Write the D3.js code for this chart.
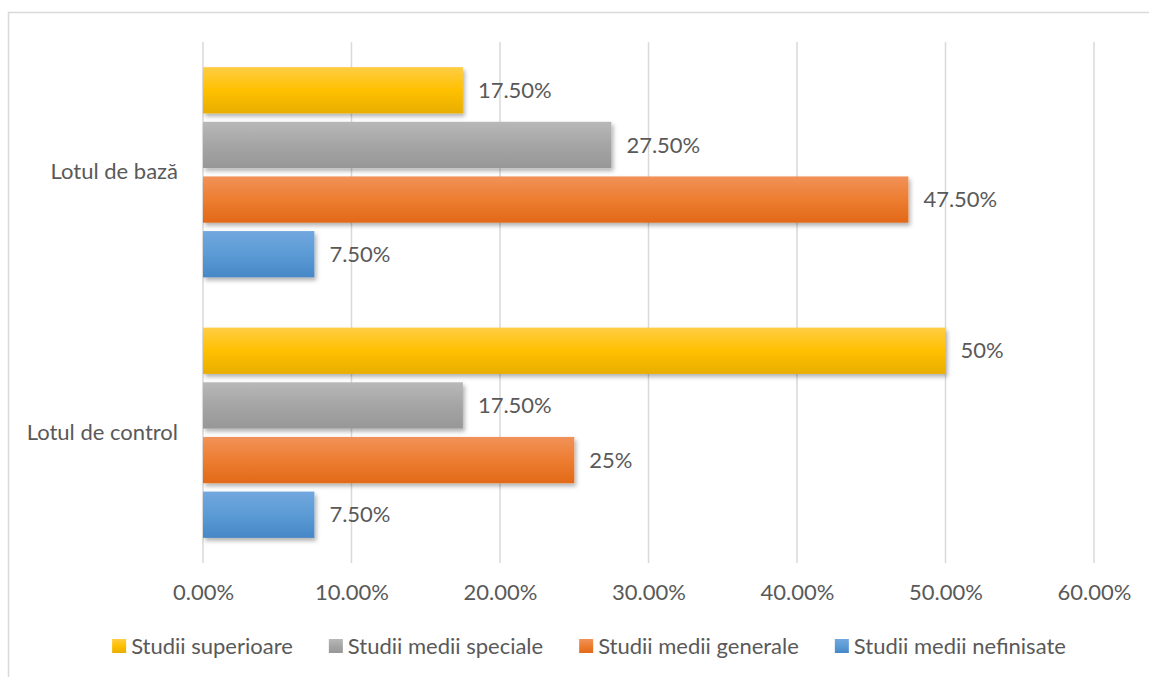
<!DOCTYPE html>
<html>
<head>
<meta charset="utf-8">
<script src="https://cdn.jsdelivr.net/npm/d3@7"></script>
<style>
  html, body { margin: 0; padding: 0; background: #fff; }
  svg { display: block; }
  text { font-family: Lato, "Open Sans", sans-serif; fill: #595959; }
</style>
</head>
<body>
<svg id="chart" width="1149" height="677"></svg>
<script>
// Groups (top to bottom) and education levels
const categories = ["Lotul de bază", "Lotul de control"];
const seriesNames = ["Studii superioare", "Studii medii speciale", "Studii medii generale", "Studii medii nefinisate"];
const superioare = [17.5, 50];
const mediiSpeciale = [27.5, 17.5];
const mediiGenerale = [47.5, 25];
const mediiNefinisate = [7.5, 7.5];
const valueLabels = [
  ["17.50%", "50%"],
  ["27.50%", "17.50%"],
  ["47.50%", "25%"],
  ["7.50%", "7.50%"]
];
const tickValues = [0, 10, 20, 30, 40, 50, 60];
const tickLabels = ["0.00%", "10.00%", "20.00%", "30.00%", "40.00%", "50.00%", "60.00%"];

const seriesValues = [superioare, mediiSpeciale, mediiGenerale, mediiNefinisate];
const palette = [
  { top: "#ffcd45", mid: "#ffc000", bot: "#e8ae00" },
  { top: "#b8b8b8", mid: "#a5a5a5", bot: "#979797" },
  { top: "#f19259", mid: "#ed7d31", bot: "#e26918" },
  { top: "#72a7de", mid: "#5b9bd5", bot: "#4787c6" }
];
const fontSize = 22;

const svg = d3.select("#chart");
const defs = svg.append("defs");

palette.forEach((c, i) => {
  const g = defs.append("linearGradient").attr("id", "grad" + i)
    .attr("x1", 0).attr("y1", 0).attr("x2", 0).attr("y2", 1);
  g.append("stop").attr("offset", "0%").attr("stop-color", c.top);
  g.append("stop").attr("offset", "50%").attr("stop-color", c.mid);
  g.append("stop").attr("offset", "100%").attr("stop-color", c.bot);
});

const shadow = defs.append("filter").attr("id", "shadow")
  .attr("x", "-5%").attr("y", "-20%").attr("width", "115%").attr("height", "150%");
shadow.append("feDropShadow").attr("dx", 2).attr("dy", 3).attr("stdDeviation", 2)
  .attr("flood-color", "#000").attr("flood-opacity", 0.3);

// Chart area outline
svg.append("rect")
  .attr("x", 8.5).attr("y", 12.5).attr("width", 1200).attr("height", 700)
  .attr("fill", "#fff").attr("stroke", "#d9d9d9").attr("stroke-width", 1.5);

const x = d3.scaleLinear().domain([0, 60]).range([203, 1094]);
const y0 = d3.scaleBand().domain(categories).range([42, 563]).paddingInner(0).paddingOuter(0);
const y1 = d3.scaleBand().domain(d3.range(seriesNames.length))
  .range([0, y0.bandwidth()]).paddingInner(0.153).paddingOuter(0.46);

// Vertical gridlines
svg.append("g").selectAll("line").data(tickValues).join("line")
  .attr("x1", d => x(d)).attr("x2", d => x(d))
  .attr("y1", 42).attr("y2", 563)
  .attr("stroke", "#d9d9d9").attr("stroke-width", 1.5);

// Value axis tick labels
const xAxis = d3.axisBottom(x).tickValues(tickValues)
  .tickFormat((d, i) => tickLabels[i]).tickSize(0).tickPadding(0);
const gx = svg.append("g").attr("transform", "translate(0,584)").call(xAxis);
gx.select(".domain").remove();
gx.selectAll("text").attr("font-size", fontSize).attr("dy", "0.72em")
  .style("font-family", "Lato, 'Open Sans', sans-serif").attr("fill", "#595959");

// Category labels
const yAxis = d3.axisLeft(y0).tickSize(0).tickPadding(0);
const gy = svg.append("g").attr("transform", "translate(178,0)").call(yAxis);
gy.select(".domain").remove();
gy.selectAll("text").attr("font-size", fontSize)
  .style("font-family", "Lato, 'Open Sans', sans-serif").attr("fill", "#595959");

// Bars
const barData = [];
categories.forEach((cat, ci) => {
  seriesValues.forEach((vals, si) => {
    barData.push({ cat, si, v: vals[ci], label: valueLabels[si][ci] });
  });
});

const bars = svg.append("g");
bars.selectAll("rect").data(barData).join("rect")
  .attr("x", x(0))
  .attr("y", d => y0(d.cat) + y1(d.si))
  .attr("width", d => x(d.v) - x(0))
  .attr("height", y1.bandwidth())
  .attr("fill", d => `url(#grad${d.si})`)
  .attr("filter", "url(#shadow)");

svg.append("g").selectAll("text").data(barData).join("text")
  .attr("x", d => x(d.v) + 15)
  .attr("y", d => y0(d.cat) + y1(d.si) + y1.bandwidth() / 2)
  .attr("dy", "0.35em")
  .attr("font-size", fontSize)
  .text(d => d.label);

// Legend
const legend = svg.append("g");
const items = legend.selectAll("g").data(seriesNames).join("g");
items.append("rect").attr("width", 14).attr("height", 14)
  .attr("y", 639).attr("fill", (d, i) => `url(#grad${i})`);
items.append("text").attr("x", 19).attr("y", 646).attr("dy", "0.35em")
  .attr("font-size", fontSize).text(d => d);
let widths = [];
items.each(function () { widths.push(this.getBBox().width); });
const gap = 36;
const total = d3.sum(widths) + gap * (widths.length - 1);
let cx = 589 - total / 2;
items.each(function (d, i) {
  d3.select(this).attr("transform", `translate(${cx},0)`);
  cx += widths[i] + gap;
});
</script>
</body>
</html>
